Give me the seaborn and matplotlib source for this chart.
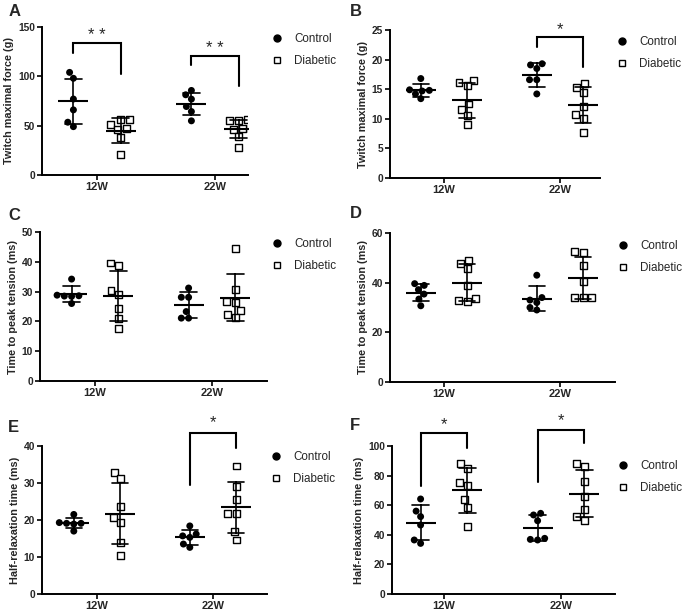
import numpy as np
import pandas as pd
import seaborn as sns
import matplotlib
matplotlib.use("Agg")
import matplotlib.pyplot as plt
from matplotlib.lines import Line2D

sns.set_style("ticks")
plt.rcParams['font.family'] = ['Liberation Sans', 'DejaVu Sans']

weeks = ['12W', '22W']
groups = ['Control', 'Diabetic']

# ---- data ----
a_ctrl_12 = [104, 98, 77, 66, 53.5, 49]
a_diab_12 = [56, 56, 51, 47, 46, 38, 21]
a_ctrl_22 = [85.7, 81.3, 76.9, 69.4, 64.3, 54.9]
a_diab_22 = [56, 55, 55, 47, 47, 46, 39, 28]

b_ctrl_12 = [16.8, 14.9, 14.7, 14.8, 14.2, 13.4]
b_diab_12 = [16.5, 16.1, 15.6, 12.5, 11.6, 10.5, 9.0]
b_ctrl_22 = [19.3, 19.1, 18.5, 16.6, 16.6, 14.2]
b_diab_22 = [16.0, 15.3, 14.4, 12.0, 10.7, 10.1, 7.7]

c_ctrl_12 = [34.2, 28.8, 28.5, 28.4, 28.6, 26.0]
c_diab_12 = [38.7, 39.6, 30.4, 28.9, 24.2, 21.1, 17.7]
c_ctrl_22 = [31.2, 28.1, 28.1, 23.3, 21.1, 21.1]
c_diab_22 = [44.6, 30.6, 26.7, 26.5, 23.7, 21.4, 22.4]

d_ctrl_12 = [39.6, 38.9, 37.2, 35.4, 33.4, 30.7]
d_diab_12 = [48.9, 47.9, 45.6, 38.8, 33.8, 32.5, 32.9]
d_ctrl_22 = [43.0, 34.0, 33.0, 32.0, 30.0, 29.0]
d_diab_22 = [52.5, 52.0, 47.0, 40.5, 34.0, 34.0, 34.0]

e_ctrl_12 = [21.5, 19.3, 19.1, 19.1, 18.9, 17.0]
e_diab_12 = [32.8, 31.1, 23.6, 20.7, 19.3, 13.9, 10.5]
e_ctrl_22 = [18.4, 16.2, 15.3, 15.7, 13.5, 12.6]
e_diab_22 = [34.6, 29.0, 25.6, 21.8, 21.8, 16.8, 14.6]

f_ctrl_12 = [64.2, 56.0, 52.3, 46.6, 34.2, 36.5]
f_diab_12 = [88.3, 84.9, 73.0, 75.2, 64.0, 58.6, 45.9]
f_ctrl_22 = [53.4, 54.5, 49.5, 37.6, 36.9, 36.5]
f_diab_22 = [86.0, 88.3, 75.9, 65.8, 56.8, 49.5, 52.3]

ylabels = {
    'A': 'Twitch maximal force (g)', 'B': 'Twitch maximal force (g)',
    'C': 'Time to peak tension (ms)', 'D': 'Time to peak tension (ms)',
    'E': 'Half-relaxation time (ms)', 'F': 'Half-relaxation time (ms)',
}
yticks = {
    'A': [0, 50, 100, 150], 'B': [0, 5, 10, 15, 20, 25],
    'C': [0, 10, 20, 30, 40, 50], 'D': [0, 20, 40, 60],
    'E': [0, 10, 20, 30, 40], 'F': [0, 20, 40, 60, 80, 100],
}
panel_data = {
    'A': (a_ctrl_12, a_diab_12, a_ctrl_22, a_diab_22),
    'B': (b_ctrl_12, b_diab_12, b_ctrl_22, b_diab_22),
    'C': (c_ctrl_12, c_diab_12, c_ctrl_22, c_diab_22),
    'D': (d_ctrl_12, d_diab_12, d_ctrl_22, d_diab_22),
    'E': (e_ctrl_12, e_diab_12, e_ctrl_22, e_diab_22),
    'F': (f_ctrl_12, f_diab_12, f_ctrl_22, f_diab_22),
}
# significance: (week index, bracket top, left leg end, right leg end, label, label y)
sig = {
    'A': [(0, 134, 123.6, 102.6, '* *', 141), (1, 121, 111, 90.4, '* *', 128)],
    'B': [(1, 23.9, 22.1, 18.8, '*', 25.0)],
    'C': [], 'D': [],
    'E': [(1, 43.6, 29.5, 39.4, '*', 46.2)],
    'F': [(0, 108.6, 73, 98.4, '*', 114.5), (1, 111, 75.9, 101.8, '*', 117)],
}

# ---- layout in pixels ----
W, H = 685, 612
# left, right, top, bottom, x of 12W, x of 22W
geom = {
    'A': (42, 248, 27, 175, 97, 215),
    'B': (390, 600, 30, 178, 444, 560),
    'C': (40, 267, 232, 381, 95, 212),
    'D': (390, 615, 233, 382, 444, 560),
    'E': (42, 267, 446, 594, 97, 213),
    'F': (392, 615, 446, 594, 444, 561),
}
legend_pos = {'A': (271, 33), 'B': (616, 36), 'C': (271, 238), 'D': (617, 240),
              'E': (270, 451), 'F': (617, 460)}
letter_pos = {'A': (9, 12), 'B': (350, 12), 'C': (8, 215), 'D': (350, 214),
              'E': (8, 428), 'F': (350, 425)}

fig = plt.figure(figsize=(W / 100, H / 100), dpi=100)

for key in ['A', 'B', 'C', 'D', 'E', 'F']:
    l, r, t, b, x0, x1 = geom[key]
    ax = fig.add_axes([l / W, 1 - b / H, (r - l) / W, (b - t) / H])
    c12, d12, c22, d22 = panel_data[key]
    rows = []
    for wk, g, vals in [('12W', 'Control', c12), ('12W', 'Diabetic', d12),
                        ('22W', 'Control', c22), ('22W', 'Diabetic', d22)]:
        for v in vals:
            rows.append({'week': wk, 'group': g, 'value': v})
    df = pd.DataFrame(rows)

    sns.swarmplot(data=df[df.group == 'Control'], x='week', y='value', hue='group',
                  order=weeks, hue_order=groups, dodge=True, marker='o', size=5.0,
                  palette={'Control': 'black', 'Diabetic': 'black'}, linewidth=0,
                  legend=False, ax=ax, zorder=1)
    sns.swarmplot(data=df[df.group == 'Diabetic'], x='week', y='value', hue='group',
                  order=weeks, hue_order=groups, dodge=True, marker='s', size=5.0,
                  palette={'Control': 'white', 'Diabetic': 'white'}, edgecolor='black',
                  linewidth=1.0, legend=False, ax=ax, zorder=1)
    sns.pointplot(data=df, x='week', y='value', hue='group', order=weeks,
                  hue_order=groups, dodge=0.4, errorbar='sd', capsize=0.14,
                  markers='_', linestyle='none', markersize=21, markeredgewidth=1.5,
                  palette={'Control': 'black', 'Diabetic': 'black'},
                  err_kws={'linewidth': 1.2}, legend=False, ax=ax)

    unit = x1 - x0
    ax.set_xlim((l - x0) / unit, (r - x0) / unit)
    ax.set_ylim(yticks[key][0], yticks[key][-1])
    ax.set_yticks(yticks[key])
    ax.set_xlabel('')
    ax.set_ylabel(ylabels[key], fontsize=7.8, fontweight='bold', labelpad=3)
    for lab in ax.get_xticklabels() + ax.get_yticklabels():
        lab.set_fontweight('bold')
    ax.tick_params(axis='y', labelsize=7.4)
    ax.tick_params(axis='x', labelsize=8)
    ax.tick_params(axis='both', width=1.2, length=3.5, pad=1.5,
                   direction='out', color='black')
    sns.despine(ax=ax)
    for s in ['left', 'bottom']:
        ax.spines[s].set_linewidth(1.4)
        ax.spines[s].set_color('black')

    for (wi, top, lbot, rbot, txt, ty) in sig[key]:
        xl, xr = wi - 0.2, wi + 0.2
        ax.plot([xl, xl, xr, xr], [lbot, top, top, rbot], color='black', lw=1.5,
                clip_on=False, solid_joinstyle='miter')
        ax.text(wi, ty, txt, ha='center', va='center', fontsize=12, clip_on=False)

    handles = [Line2D([], [], marker='o', ls='none', color='black', markersize=5.0),
               Line2D([], [], marker='s', ls='none', markerfacecolor='white',
                      markeredgecolor='black', markeredgewidth=1.0, markersize=5.0)]
    lx, ly = legend_pos[key]
    fig.legend(handles, groups, loc='upper left', bbox_to_anchor=(lx / W, 1 - ly / H),
               frameon=False, fontsize=8.4, handlelength=1.0, handletextpad=1.0,
               labelspacing=0.85, borderpad=0, borderaxespad=0)

    px, py = letter_pos[key]
    fig.text(px / W, 1 - py / H, key, fontsize=12, fontweight='bold',
             ha='left', va='center')

fig.savefig('out.png', dpi=100)
